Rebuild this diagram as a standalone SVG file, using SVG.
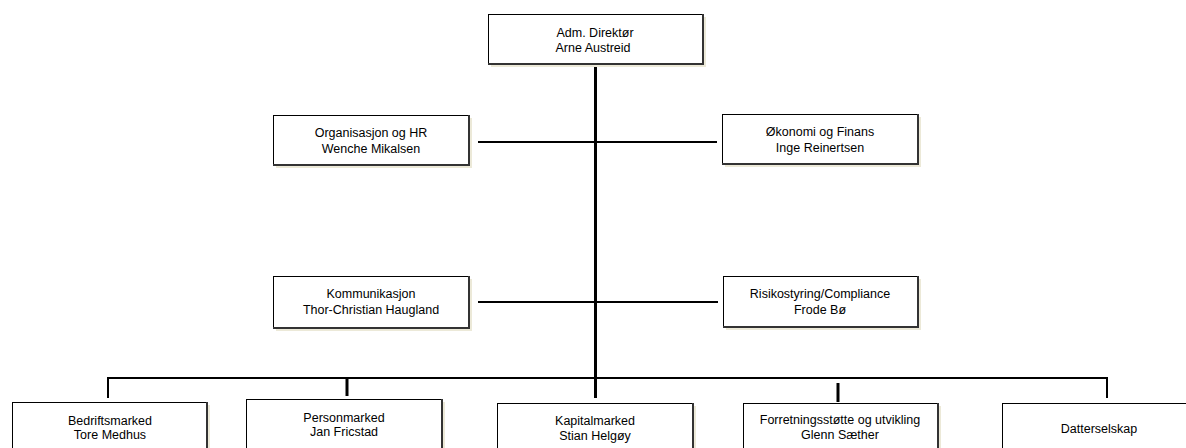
<svg xmlns="http://www.w3.org/2000/svg" width="1186" height="448" viewBox="0 0 1186 448">
<style>
.sh{fill:#ece9d8}
.bx{fill:#fff;stroke:#000;stroke-width:1}
.ed{fill:none;stroke:#333;stroke-width:2}
text{font-family:"Liberation Sans",Arial,sans-serif;font-size:12.5px;fill:#000;text-anchor:middle}
.c{stroke:#000;fill:none}
</style>
<rect width="1186" height="448" fill="#fff"/>
<g id="connectors">
<line class="c" x1="595.5" y1="64" x2="595.5" y2="379" stroke-width="3"/>
<line class="c" x1="478" y1="142" x2="717" y2="142" stroke-width="2"/>
<line class="c" x1="478" y1="302" x2="718" y2="302" stroke-width="2"/>
<line class="c" x1="107" y1="378" x2="1108" y2="378" stroke-width="2"/>
<line class="c" x1="108" y1="378" x2="108" y2="398" stroke-width="2"/>
<line class="c" x1="347" y1="378" x2="347" y2="396" stroke-width="3"/>
<line class="c" x1="595.5" y1="378" x2="595.5" y2="398" stroke-width="3"/>
<line class="c" x1="838" y1="383" x2="838" y2="402" stroke-width="3"/>
<line class="c" x1="1107" y1="378" x2="1107" y2="398" stroke-width="2"/>
</g>
<g id="n-adm">
<rect class="sh" x="491" y="17" width="215" height="50"/>
<rect class="bx" x="488.5" y="14.5" width="215" height="50"/>
<path class="ed" d="M703 14 V64 H488"/>
<text x="595" y="37">Adm. Direktør</text>
<text x="593" y="52">Arne Austreid</text>
</g>
<g id="n-org">
<rect class="sh" x="276" y="118" width="196" height="50"/>
<rect class="bx" x="273.5" y="115.5" width="196" height="50"/>
<path class="ed" d="M469 115 V165 H273"/>
<text x="371" y="137">Organisasjon og HR</text>
<text x="371" y="153">Wenche Mikalsen</text>
</g>
<g id="n-oko">
<rect class="sh" x="725" y="117" width="196" height="50"/>
<rect class="bx" x="722.5" y="114.5" width="196" height="50"/>
<path class="ed" d="M918 114 V164 H722"/>
<text x="820" y="136">Økonomi og Finans</text>
<text x="820" y="152">Inge Reinertsen</text>
</g>
<g id="n-kom">
<rect class="sh" x="276" y="279" width="196" height="52"/>
<rect class="bx" x="273.5" y="276.5" width="196" height="52"/>
<path class="ed" d="M469 276 V328 H273"/>
<text x="371" y="298">Kommunikasjon</text>
<text x="371" y="314">Thor-Christian Haugland</text>
</g>
<g id="n-risk">
<rect class="sh" x="726" y="279" width="195" height="51"/>
<rect class="bx" x="723.5" y="276.5" width="195" height="51"/>
<path class="ed" d="M918 276 V327 H723"/>
<text x="820" y="298">Risikostyring/Compliance</text>
<text x="820" y="314">Frode Bø</text>
</g>
<g id="n-bed">
<rect class="sh" x="15" y="405" width="195" height="60"/>
<rect class="bx" x="12.5" y="402.5" width="195" height="60"/>
<path class="ed" d="M207 402 V462"/>
<text x="110" y="425">Bedriftsmarked</text>
<text x="110" y="439">Tore Medhus</text>
</g>
<g id="n-per">
<rect class="sh" x="249" y="402" width="196" height="60"/>
<rect class="bx" x="246.5" y="399.5" width="196" height="60"/>
<path class="ed" d="M442 399 V459"/>
<text x="344" y="422">Personmarked</text>
<text x="344" y="436">Jan Fricstad</text>
</g>
<g id="n-kap">
<rect class="sh" x="500" y="406" width="196" height="60"/>
<rect class="bx" x="497.5" y="403.5" width="196" height="60"/>
<path class="ed" d="M693 403 V463"/>
<text x="595" y="425">Kapitalmarked</text>
<text x="595" y="440">Stian Helgøy</text>
</g>
<g id="n-for">
<rect class="sh" x="746" y="406" width="195" height="60"/>
<rect class="bx" x="743.5" y="403.5" width="195" height="60"/>
<path class="ed" d="M938 403 V463"/>
<text x="840" y="424">Forretningsstøtte og utvikling</text>
<text x="840" y="439">Glenn Sæther</text>
</g>
<g id="n-dat">
<rect class="sh" x="1005" y="406" width="195" height="60"/>
<rect class="bx" x="1002.5" y="403.5" width="195" height="60"/>
<text x="1099" y="433">Datterselskap</text>
</g>
</svg>
